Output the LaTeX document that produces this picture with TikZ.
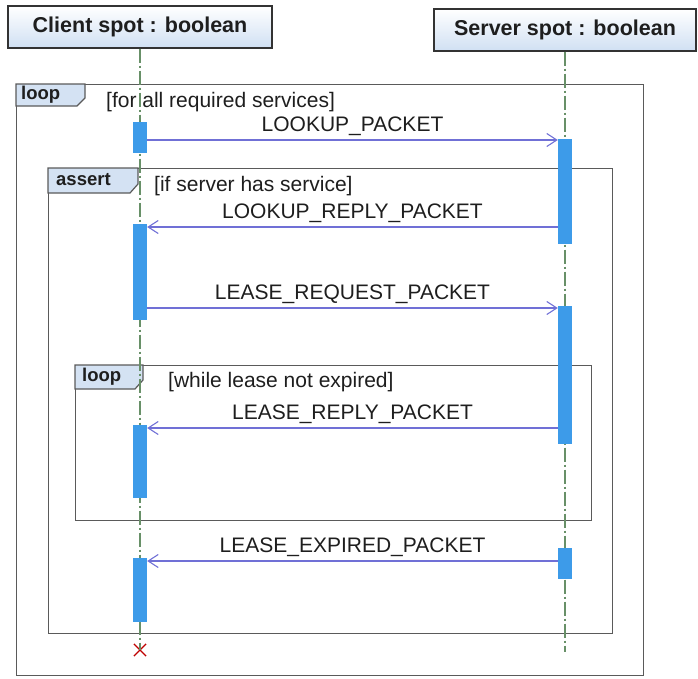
\documentclass[tikz,border=0pt]{standalone}
\usepackage{fontspec}
\setmainfont{Liberation Sans}
\usepackage{tikz}
\usetikzlibrary{arrows.meta, shapes.misc}

\definecolor{barblue}{RGB}{61,155,233}
\definecolor{msgblue}{RGB}{112,112,214}
\definecolor{lifegreen}{RGB}{104,144,104}
\definecolor{tabblue}{RGB}{212,226,243}
\definecolor{headblue}{RGB}{208,224,243}
\definecolor{framegray}{RGB}{90,90,90}
\definecolor{txtgray}{RGB}{30,30,30}

\begin{document}
\begin{tikzpicture}[
    x=1pt, y=-1pt,
    >={Straight Barb[length=10pt, width=13pt]},
    head/.style={draw=black!80, line width=1.2pt, top color=white, bottom color=headblue, minimum height=42pt, font=\fontsize{21.5}{24}\selectfont\bfseries, text=txtgray},
    frame/.style={draw=framegray, line width=1.3pt, anchor=north west, inner sep=0pt},
    tabfill/.style={draw=framegray, line width=1.2pt, fill=tabblue},
    tablbl/.style={anchor=west, inner sep=0pt, font=\fontsize{18.5}{20}\selectfont\bfseries, text=txtgray},
    guard/.style={anchor=west, inner sep=0pt, font=\fontsize{21}{24}\selectfont, text=txtgray},
    lifeline/.style={draw=lifegreen, line width=1.3pt, dash pattern=on 14pt off 3pt on 2pt off 3pt},
    actbar/.style={fill=barblue, draw=none, minimum width=14pt, inner sep=0pt},
    msg/.style={->, draw=msgblue, line width=1.1pt},
    msglbl/.style={above, inner sep=4pt, font=\fontsize{21}{24}\selectfont, text=txtgray}
]
\useasboundingbox (0,0) rectangle (698,678);

\node[head, minimum width=264pt] (client) at (140,27) {Client spot : boolean};
\node[head, minimum width=262pt] (server) at (565,30) {Server spot : boolean};

\node[frame, minimum width=627pt, minimum height=591pt] (outerloop) at (16,84) {};
\node[frame, minimum width=564pt, minimum height=465pt] (assertfr) at (48,168) {};
\node[frame, minimum width=516pt, minimum height=155pt] (innerloop) at (75,365) {};

\draw[tabfill] (outerloop.north west) -- ++(69,0) -- ++(0,14) -- ++(-8,8) -- ++(-61,0) -- cycle;
\draw[tabfill] (assertfr.north west) -- ++(90,0) -- ++(0,16) -- ++(-8,9) -- ++(-82,0) -- cycle;
\draw[tabfill] (innerloop.north west) -- ++(68,0) -- ++(0,15) -- ++(-8,9) -- ++(-60,0) -- cycle;

\node[tablbl] (outerlbl) at ([shift={(5,11)}]outerloop.north west) {loop};
\node[tablbl] (assertlbl) at ([shift={(8,12)}]assertfr.north west) {assert};
\node[tablbl] (innerlbl) at ([shift={(7,12)}]innerloop.north west) {loop};

\node[guard] (guard1) at (106,102) {[for all required services]};
\node[guard] (guard2) at (154,186) {[if server has service]};
\node[guard] (guard3) at (168,382) {[while lease not expired]};

\node[cross out, draw=red!75!black, line width=1.2pt, minimum size=11pt, inner sep=0pt] (clientend) at (140,650) {};
\coordinate (serverend) at (565,652);

\draw[lifeline] (client.south) -- (clientend.center);
\draw[lifeline] (server.south) -- (serverend);

\node[actbar, minimum height=31pt] (c1) at (140,137.5) {};
\node[actbar, minimum height=96pt] (c2) at (140,272) {};
\node[actbar, minimum height=73pt] (c3) at (140,461.5) {};
\node[actbar, minimum height=64pt] (c4) at (140,590) {};
\node[actbar, minimum height=105pt] (s1) at (565,191.5) {};
\node[actbar, minimum height=138pt] (s2) at (565,375) {};
\node[actbar, minimum height=31pt] (s3) at (565,563.5) {};

\coordinate (m1) at (0,140);
\coordinate (m2) at (0,227);
\coordinate (m3) at (0,308);
\coordinate (m4) at (0,428);
\coordinate (m5) at (0,561);

\draw[msg] (c1.east |- m1) -- (s1.west |- m1) node[msglbl, midway] (l1) {LOOKUP\_PACKET};
\draw[msg] (s1.west |- m2) -- (c2.east |- m2) node[msglbl, midway] (l2) {LOOKUP\_REPLY\_PACKET};
\draw[msg] (c2.east |- m3) -- (s2.west |- m3) node[msglbl, midway] (l3) {LEASE\_REQUEST\_PACKET};
\draw[msg] (s2.west |- m4) -- (c3.east |- m4) node[msglbl, midway] (l4) {LEASE\_REPLY\_PACKET};
\draw[msg] (s3.west |- m5) -- (c4.east |- m5) node[msglbl, midway] (l5) {LEASE\_EXPIRED\_PACKET};

\end{tikzpicture}
\end{document}
